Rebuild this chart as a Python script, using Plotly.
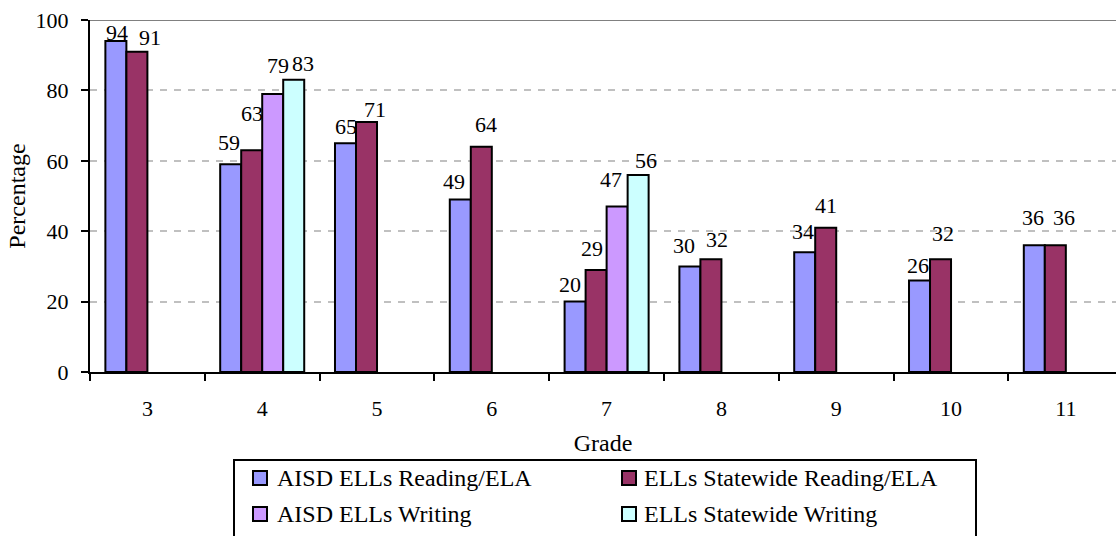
import plotly.graph_objects as go

# Percentage of ELL students meeting standard, by grade
grades = ["3", "4", "5", "6", "7", "8", "9", "10", "11"]
aisd_reading = [94, 59, 65, 49, 20, 30, 34, 26, 36]
state_reading = [91, 63, 71, 64, 29, 32, 41, 32, 36]
aisd_writing = [None, 79, None, None, 47, None, None, None, None]
state_writing = [None, 83, None, None, 56, None, None, None, None]

series = [
    ("AISD ELLs Reading/ELA", aisd_reading, "#9999FF"),
    ("ELLs Statewide Reading/ELA", state_reading, "#993366"),
    ("AISD ELLs Writing", aisd_writing, "#CC99FF"),
    ("ELLs Statewide Writing", state_writing, "#CCFFFF"),
]

# hand-placed value labels: (series, grade) -> (pixel shift right, pixel lift above bar top)
label_nudge = {
    (0, "3"): (1, 8), (0, "4"): (-2, 21), (0, "5"): (0, 16), (0, "6"): (-6, 17),
    (0, "7"): (-5, 16), (0, "8"): (-6, 20), (0, "9"): (-2, 20), (0, "10"): (-2, 14),
    (0, "11"): (-1, 27),
    (1, "3"): (13, 13), (1, "4"): (0, 36), (1, "5"): (8, 12), (1, "6"): (5, 21),
    (1, "7"): (-4, 20), (1, "8"): (6, 19), (1, "9"): (0, 21), (1, "10"): (2, 25),
    (1, "11"): (9, 27),
    (2, "4"): (5, 27), (2, "7"): (-6, 26),
    (3, "4"): (9, 15), (3, "7"): (8, 13),
}

FONT = "Liberation Serif, Times New Roman, serif"
BARGAP = 0.268

fig = go.Figure()
for name, vals, color in series:
    fig.add_trace(go.Bar(
        x=grades,
        y=vals,
        name=name,
        marker=dict(color=color, line=dict(color="black", width=2)),
        showlegend=False,
        hoverinfo="x+y+name",
    ))

W, H = 1116, 536
L, T, B = 90, 20, 164
PW, PH = W - L, H - T - B

fig.update_layout(
    width=W, height=H,
    margin=dict(l=L, r=0, t=T, b=B),
    paper_bgcolor="white", plot_bgcolor="white",
    barmode="group", bargap=BARGAP, bargroupgap=0,
    font=dict(family=FONT, size=22, color="black"),
)

fig.update_xaxes(
    type="category",
    categoryorder="array", categoryarray=grades,
    range=[-0.5, 8.437],
    tickson="boundaries",
    ticks="outside", ticklen=7, tickwidth=2, tickcolor="black",
    showline=True, linecolor="black", linewidth=2,
    showgrid=False,
    tickfont=dict(family=FONT, size=22, color="black"),
    ticklabelstandoff=16,
    title=dict(text="Grade", font=dict(family=FONT, size=24, color="black"), standoff=14),
)

fig.update_yaxes(
    range=[0, 100], dtick=20, tick0=0,
    ticks="outside", ticklen=7, tickwidth=2, tickcolor="black",
    showline=True, linecolor="black", linewidth=2,
    showgrid=True, gridcolor="#C0C0C0", gridwidth=2, griddash="7px,7px",
    zeroline=False,
    tickfont=dict(family=FONT, size=22, color="black"),
    ticklabelstandoff=8,
    title=dict(text="Percentage", font=dict(family=FONT, size=24, color="black"), standoff=3),
)

# solid top border of the plotting area
fig.add_shape(type="line", xref="paper", yref="y", x0=0, x1=1, y0=100, y1=100,
              line=dict(color="#808080", width=2), layer="above")

# value labels above each bar
bar_w = (1 - BARGAP) / len(series)
for si, (name, vals, color) in enumerate(series):
    for gi, (g, v) in enumerate(zip(grades, vals)):
        if v is None:
            continue
        dx, lift = label_nudge.get((si, g), (0, 16))
        fig.add_annotation(
            x=gi + (si - (len(series) - 1) / 2) * bar_w, y=v,
            xref="x", yref="y", text=str(v), showarrow=False,
            xanchor="center", yanchor="middle",
            xshift=dx, yshift=lift + 1,
            font=dict(family=FONT, size=22, color="black"),
        )

# legend box, placed in pixel coordinates of the page
def px_x(x):
    return (x - L) / PW

def px_y(y):
    return (H - B - y) / PH

fig.add_shape(type="rect", xref="paper", yref="paper",
              x0=px_x(234), x1=px_x(976), y0=px_y(460), y1=px_y(545),
              line=dict(color="black", width=2), fillcolor="rgba(0,0,0,0)")
legend_pos = [(253, 478, 275), (622, 478, 642), (253, 514, 275), (622, 514, 642)]
for (name, vals, color), (sx, sy, tx) in zip(series, legend_pos):
    fig.add_shape(type="rect", xref="paper", yref="paper",
                  x0=px_x(sx), x1=px_x(sx + 14), y0=px_y(sy - 7), y1=px_y(sy + 7),
                  line=dict(color="black", width=2), fillcolor=color)
    fig.add_annotation(text=name, xref="paper", yref="paper",
                       x=px_x(tx), y=px_y(sy), xanchor="left", yanchor="middle",
                       showarrow=False, font=dict(family=FONT, size=24, color="black"))

fig.write_html("out.html")
